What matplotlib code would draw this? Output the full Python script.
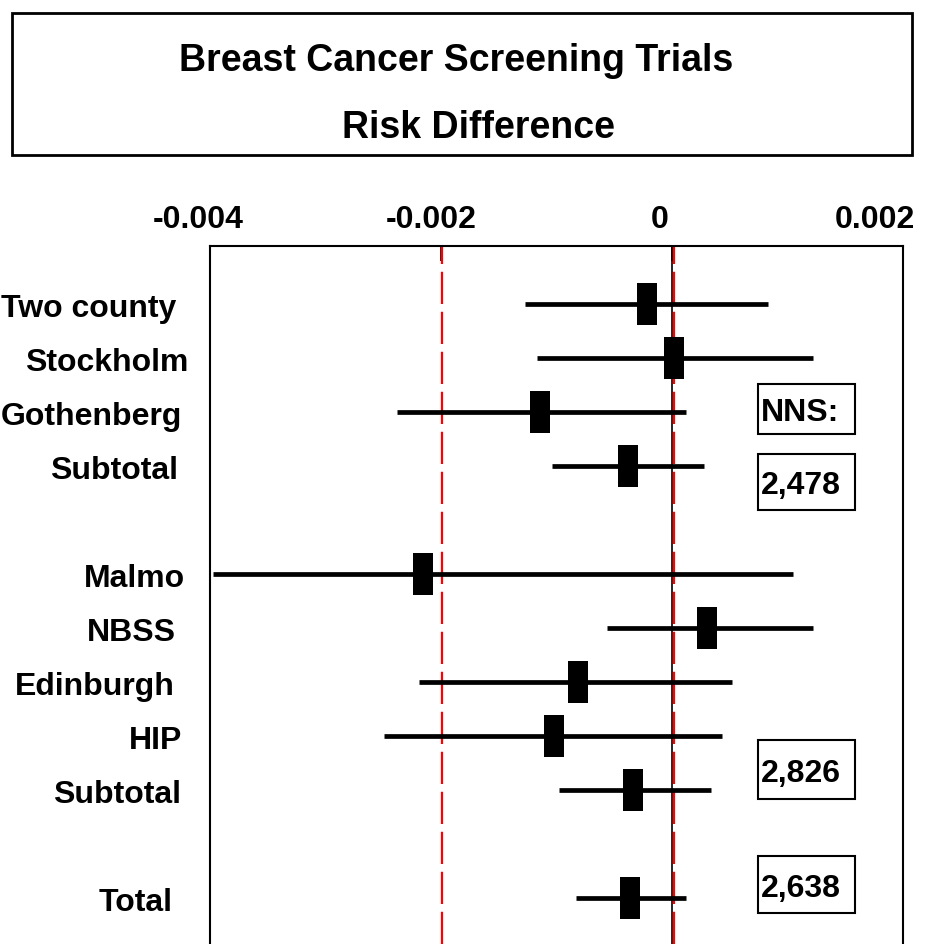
"""Forest plot of risk differences in breast cancer screening trials."""

import matplotlib.pyplot as plt
from matplotlib.patches import Rectangle
from matplotlib.transforms import ScaledTranslation, blended_transform_factory

plt.rcParams["font.family"] = ["Liberation Sans", "DejaVu Sans"]
plt.rcParams["font.weight"] = "bold"

# Trials, in plotting order (row index leaves gaps between groups)
trials = ["Two county", "Stockholm", "Gothenberg", "Subtotal",
          "Malmo", "NBSS", "Edinburgh", "HIP", "Subtotal", "Total"]
rows = [0, 1, 2, 3, 5, 6, 7, 8, 9, 11]
risk_diff = [-0.00022, 0.00002, -0.00114, -0.00038,
             -0.00216, 0.00030, -0.00081, -0.00102, -0.00034, -0.00036]
ci_low = [-0.00127, -0.00117, -0.00238, -0.00104,
          -0.00397, -0.00056, -0.00219, -0.00249, -0.00098, -0.00083]
ci_high = [0.00083, 0.00122, 0.00012, 0.00028,
           0.00105, 0.00122, 0.00052, 0.00043, 0.00034, 0.00012]
ref_lines = [-0.00199, 0.00002]
x_ticks = [-0.004, -0.002, 0, 0.002]
x_tick_labels = ["-0.004", "-0.002", "0", "0.002"]
nns_labels = ["NNS:", "2,478", "2,826", "2,638"]

W, H = 929, 945
fig = plt.figure(figsize=(W / 100, H / 100), dpi=100)


def fx(px):
    return px / W


def fy(py):
    return 1 - py / H


# plot area in pixels: left 210, right 903, top 247, running off the bottom
ax = fig.add_axes([fx(210), fy(945), fx(903) - fx(210), fy(247) - fy(945)])
ax.set_xlim(-0.004, 0.002)
ax.set_ylim(11.85, -1.074)

ax.axvline(0, color="black", lw=1.2, zorder=1)
for xv in ref_lines:
    ax.axvline(xv, color="red", lw=1.6, dashes=(14.5, 3.5), zorder=2)

ax.hlines(rows, ci_low, ci_high, color="black", lw=3.4, zorder=3)
box = [(-1, -2.1), (1, -2.1), (1, 2.1), (-1, 2.1), (-1, -2.1)]
ax.plot(risk_diff, rows, linestyle="none", marker=box, markersize=30,
        color="black", markeredgewidth=0, zorder=4)

ax.xaxis.tick_top()
ax.set_xticks(x_ticks, x_tick_labels)
ax.tick_params(axis="x", direction="in", length=11, width=1.2, pad=9,
               labelsize=23)
# labels sit a little left of their ticks; the last one is pulled in more
label_shift_px = [-12, -10, -12, -28]
for lab, dx in zip(ax.get_xticklabels(), label_shift_px):
    lab.set_fontweight("bold")
    lab.set_transform(lab.get_transform()
                      + ScaledTranslation(dx / 100, 0, fig.dpi_scale_trans))

# row labels sit at slightly uneven right edges in the original
label_right_px = [176, 188, 182, 178, 185, 176, 175, 182, 181, 173]
ax.set_yticks(rows, [""] * len(rows))
ax.tick_params(axis="y", length=0)
row_trans = blended_transform_factory(fig.transFigure, ax.transData)
for name, r, xr in zip(trials, rows, label_right_px):
    ax.text(fx(xr), r, name, transform=row_trans, ha="right",
            va="center_baseline", fontsize=23, fontweight="bold",
            clip_on=False)

for side in ("top", "left", "right"):
    ax.spines[side].set_linewidth(1.5)
ax.spines["bottom"].set_visible(False)

# number-needed-to-screen boxes (pixel layout)
nns_boxes = [(758, 385, 435), (758, 455, 511), (758, 741, 800), (758, 857, 914)]
for text, (x0, y0, y1) in zip(nns_labels, nns_boxes):
    fig.add_artist(Rectangle((fx(x0), fy(y1)), fx(855) - fx(x0), fy(y0) - fy(y1),
                             transform=fig.transFigure, fill=False,
                             edgecolor="black", lw=1.5))
    fig.text(fx(x0 + 3), fy((y0 + y1) / 2), text, ha="left",
             va="center_baseline", fontsize=23, fontweight="bold")

# title box
fig.add_artist(Rectangle((fx(12), fy(156)), fx(912) - fx(12), fy(14) - fy(156),
                         transform=fig.transFigure, fill=False,
                         edgecolor="black", lw=2))
fig.text(fx(456), fy(57), "Breast Cancer Screening Trials", ha="center",
         va="center_baseline", fontsize=27, fontweight="bold")
fig.text(fx(479), fy(124), "Risk Difference", ha="center",
         va="center_baseline", fontsize=27, fontweight="bold")

fig.savefig("out.png", dpi=100)
